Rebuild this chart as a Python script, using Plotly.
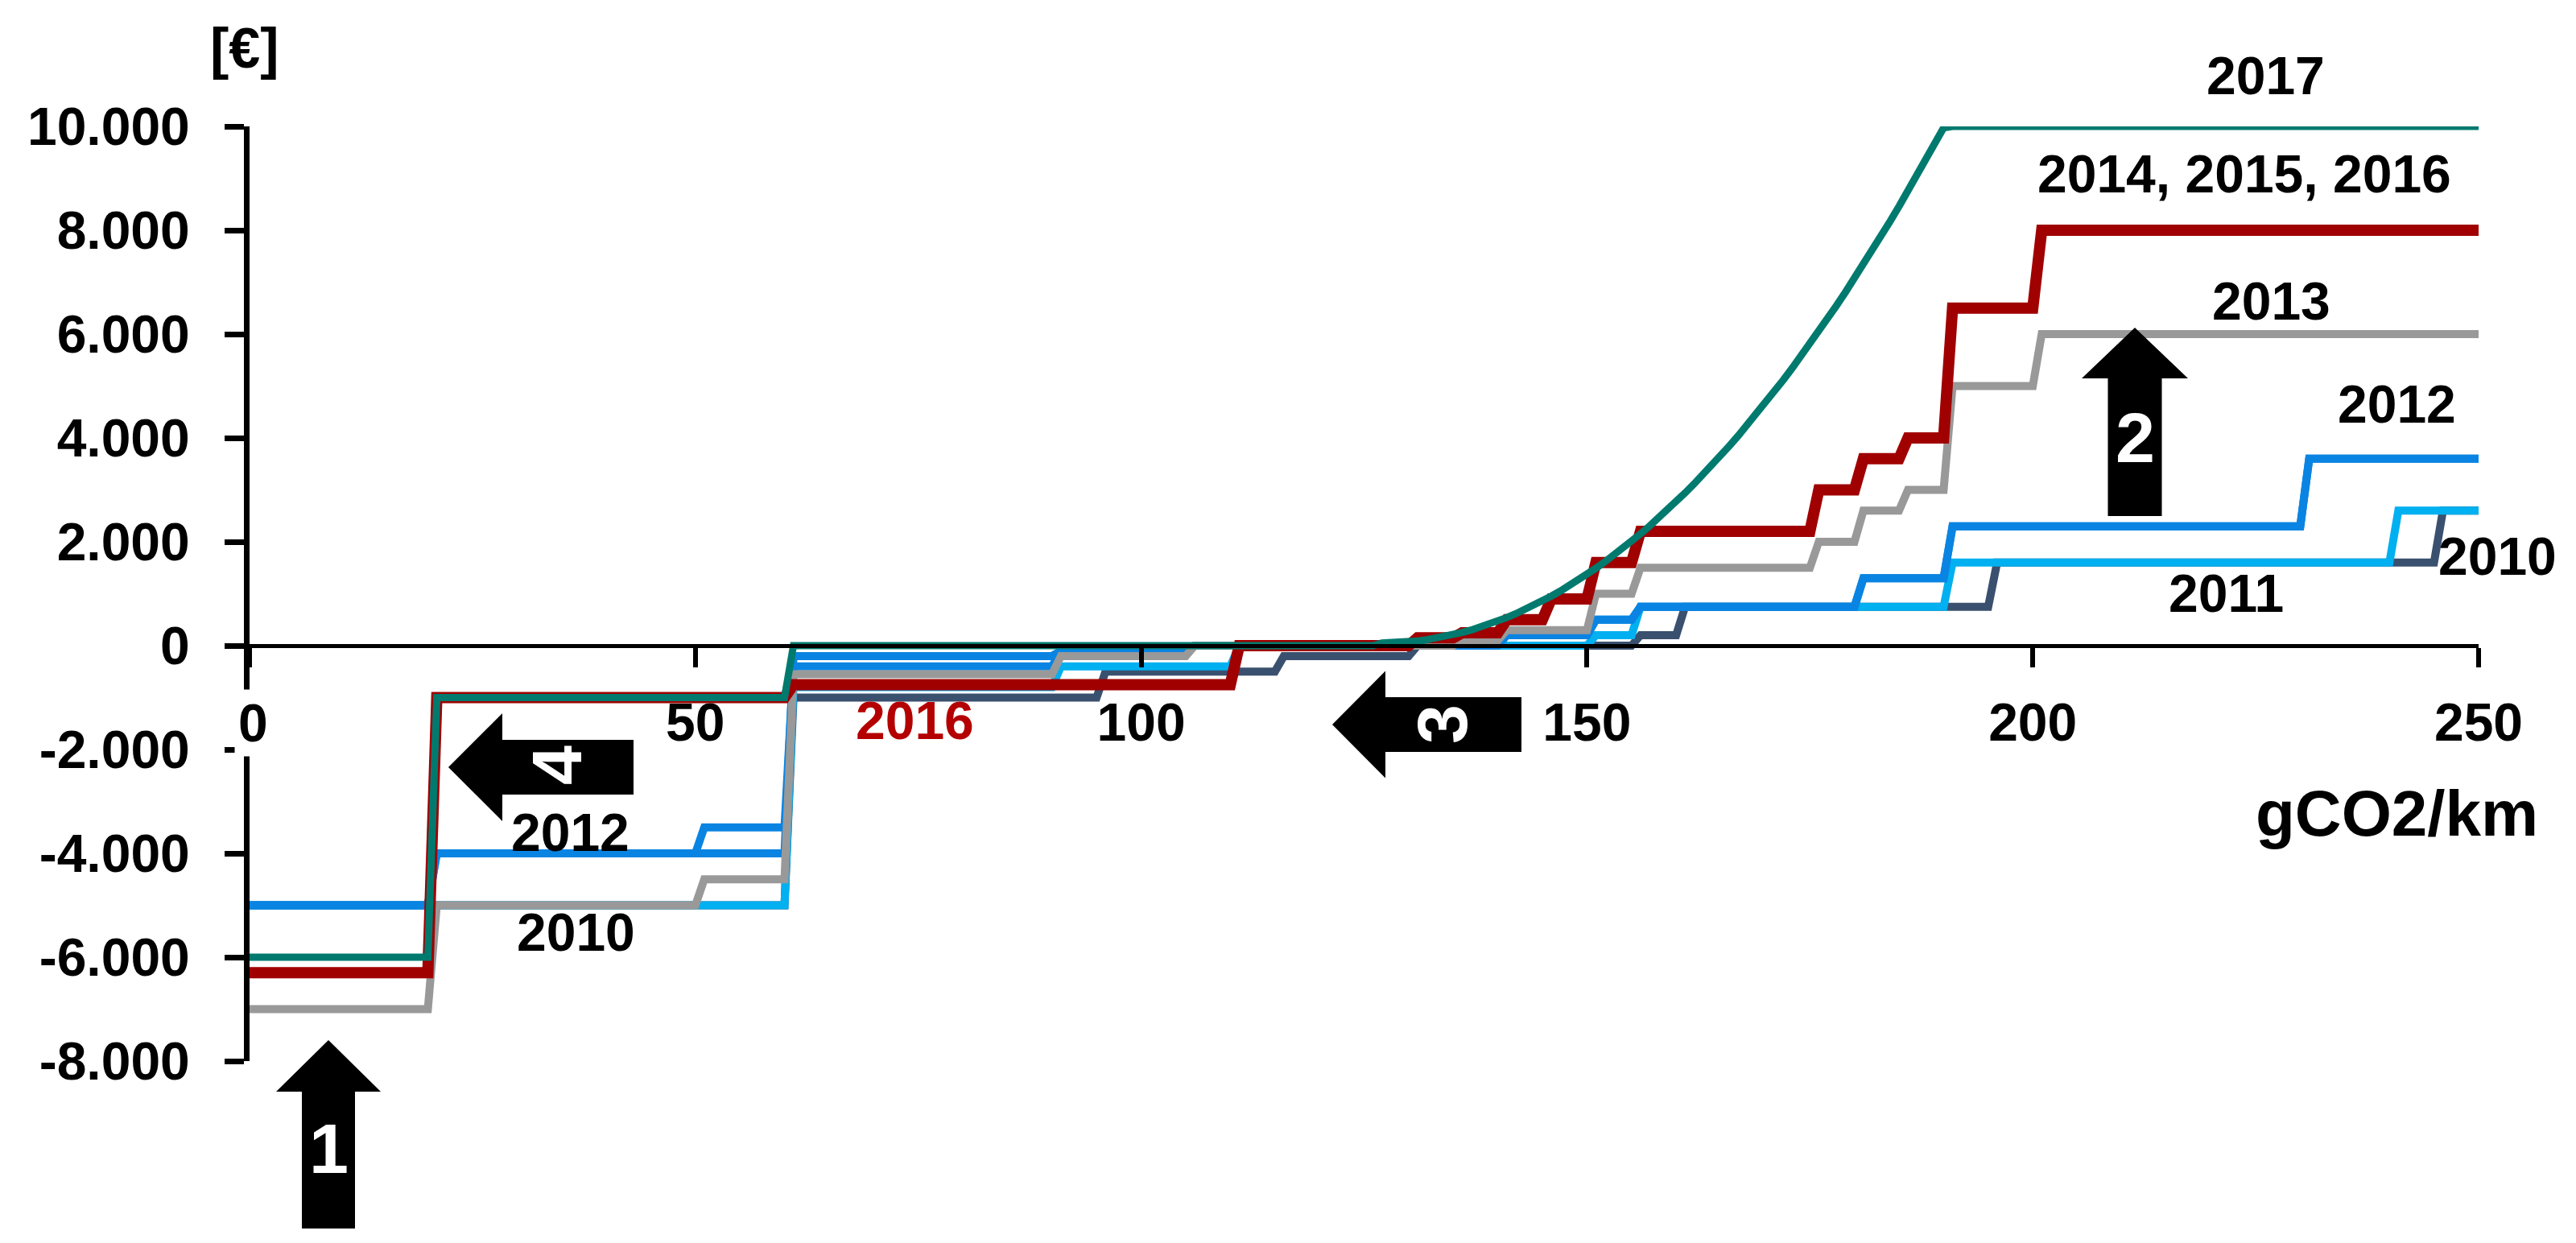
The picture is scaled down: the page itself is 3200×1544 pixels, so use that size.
import plotly.graph_objects as go

# Bonus (-) / malus (+) in EUR per CO2 band: upper limit of each band (gCO2/km) and its value
lim_2010 = [60, 95, 115, 130, 155, 160, 195, 245, 250]
val_2010 = [-5000, -1000, -500, -200, 0, 200, 750, 1600, 2600]

lim_2011 = [60, 90, 110, 150, 155, 190, 240, 250]
val_2011 = [-5000, -800, -400, 0, 200, 750, 1600, 2600]

lim_2012 = [20, 50, 60, 90, 105, 140, 150, 155, 180, 190, 230, 250]
val_2012 = [-5000, -4000, -3500, -400, -100, 0, 200, 500, 750, 1300, 2300, 3600]

lim_2012b = [20, 60, 90, 105, 140, 150, 155, 180, 190, 230, 250]
val_2012b = [-5000, -4000, -200, -100, 0, 200, 500, 750, 1300, 2300, 3600]

lim_2013 = [20, 50, 60, 90, 105, 135, 140, 150, 155, 175, 180, 185, 190, 200, 250]
val_2013 = [-7000, -5000, -4500, -550, -200, 0, 100, 300, 1000, 1500, 2000, 2600, 3000, 5000, 6000]

lim_2016 = [20, 60, 110, 130, 135, 140, 145, 150, 155, 175, 180, 185, 190, 200, 250]
val_2016 = [-6300, -1000, -750, 0, 150, 250, 500, 900, 1600, 2200, 3000, 3600, 4000, 6500, 8000]

# 2017: per-gram malus from 127 to 190 g
malus_2017 = [50, 53, 60, 73, 90, 113, 140, 173, 210, 253, 300, 353, 410, 473,
              540, 613, 690, 773, 860, 953, 1050, 1153, 1260, 1373, 1490, 1613,
              1740, 1873, 2010, 2153, 2300, 2453, 2610, 2773, 2940, 3113, 3290,
              3473, 3660, 3853, 4050, 4253, 4460, 4673, 4890, 5113, 5340, 5573,
              5810, 6053, 6300, 6553, 6810, 7073, 7340, 7613, 7890, 8173, 8460,
              8753, 9050, 9353, 9660, 9973]
lim_2017 = [20, 60, 126] + list(range(127, 191)) + [250]
val_2017 = [-6000, -1000, 0] + malus_2017 + [10000]

x_ticks = [0, 50, 100, 150, 200, 250]
x_ticktext = ["", "50", "100", "150", "200", "250"]
y_range = [-8000, 10000]
y_ticks = [-8000, -6000, -4000, -2000, 0, 2000, 4000, 6000, 8000, 10000]
y_ticktext = ["-8.000", "-6.000", "-4.000", "-2.000", "0", "2.000", "4.000", "6.000", "8.000", "10.000"]

FONT = "Arial, Liberation Sans, sans-serif"
W, H = 3200, 1544
L, R, T, B = 302, 129, 149, 234
pw, ph = W - L - R, H - T - B


def px(X):
    return (X - L) / pw


def py(Y):
    return (H - B - Y) / ph


def steps(limits, values):
    # each band is flat; the jump to the next band happens over one gram
    xs, ys = [], []
    lo = 0
    for hi, v in zip(limits, values):
        if hi > lo:
            xs += [lo, hi]
            ys += [v, v]
        else:
            xs.append(hi)
            ys.append(v)
        lo = hi + 1
    return xs, ys


series = [
    ("2010", lim_2010, val_2010, "#3A506F", 10),
    ("2011", lim_2011, val_2011, "#00B0F0", 10),
    ("2012", lim_2012, val_2012, "#0A84E2", 10),
    ("2012 (b)", lim_2012b, val_2012b, "#0A84E2", 10),
    ("2013", lim_2013, val_2013, "#999999", 10),
    ("2014, 2015, 2016", lim_2016, val_2016, "#A00000", 14),
    ("2017", lim_2017, val_2017, "#007A6E", 9),
]

fig = go.Figure()
for name, lim, val, color, width in series:
    xs, ys = steps(lim, val)
    fig.add_trace(go.Scatter(x=xs, y=ys, mode="lines", name=name,
                             line=dict(color=color, width=width),
                             cliponaxis=False, showlegend=False))

# block arrows (pixel geometry converted to paper coords)
def up_arrow(cx, tip, base, head_w, shaft_w, bottom):
    pts = [(cx, tip), (cx + head_w / 2, base), (cx + shaft_w / 2, base),
           (cx + shaft_w / 2, bottom), (cx - shaft_w / 2, bottom),
           (cx - shaft_w / 2, base), (cx - head_w / 2, base)]
    return "M " + " L ".join(f"{px(a):.5f},{py(b):.5f}" for a, b in pts) + " Z"


def left_arrow(cy, tip, base, head_h, shaft_h, end):
    pts = [(tip, cy), (base, cy - head_h / 2), (base, cy - shaft_h / 2),
           (end, cy - shaft_h / 2), (end, cy + shaft_h / 2),
           (base, cy + shaft_h / 2), (base, cy + head_h / 2)]
    return "M " + " L ".join(f"{px(a):.5f},{py(b):.5f}" for a, b in pts) + " Z"


arrows = [
    up_arrow(400, 1284, 1348, 130, 66, 1518),
    up_arrow(2644, 399, 462, 132, 67, 633),
    left_arrow(892, 1647, 1713, 133, 68, 1882),
    left_arrow(945, 549, 616, 134, 68, 779),
]
for p in arrows:
    fig.add_shape(type="path", path=p, xref="paper", yref="paper",
                  fillcolor="black", line=dict(color="black", width=0), layer="above")

# text labels: text, x px, y px, size, color, angle
labels = [
    ("2017", 2806, 86, 66, "black", 0),
    ("2014, 2015, 2016", 2780, 208, 66, "black", 0),
    ("2013", 2813, 366, 66, "black", 0),
    ("2012", 2969, 494, 66, "black", 0),
    ("2010", 3094, 683, 66, "black", 0),
    ("2011", 2757, 729, 66, "black", 0),
    ("2016", 1128, 887, 66, "#B40000", 0),
    ("2012", 700, 1026, 66, "black", 0),
    ("2010", 707, 1150, 66, "black", 0),
    ("[€]", 296, 52, 70, "black", 0),
    ("gCO2/km", 2969, 1002, 80, "black", 0),
    ("1", 400, 1418, 88, "white", 0),
    ("2", 2644, 535, 88, "white", 0),
    ("3", 1783, 892, 88, "white", -90),
    ("4", 683, 943, 88, "white", -90),
]
for text, X, Y, size, color, ang in labels:
    fig.add_annotation(text=text, x=px(X), y=py(Y), xref="paper", yref="paper",
                       xanchor="center", yanchor="middle", showarrow=False,
                       textangle=ang,
                       font=dict(family=FONT, size=size, color=color, weight="bold"))

# the "0" label of the x axis sits on a white box that cuts the y axis
fig.add_annotation(text="0", x=px(306), y=py(890), xref="paper", yref="paper",
                   xanchor="center", yanchor="middle", showarrow=False,
                   bgcolor="white", borderpad=4,
                   font=dict(family=FONT, size=66, color="black", weight="bold"))

zero_pos = (0 - y_range[0]) / (y_range[1] - y_range[0])

fig.update_layout(
    width=W, height=H,
    margin=dict(l=L, r=R, t=T, b=B),
    paper_bgcolor="white", plot_bgcolor="white",
    showlegend=False,
    font=dict(family=FONT, color="black"),
    xaxis=dict(range=[0, 250], anchor="free", position=zero_pos,
               showline=True, linecolor="black", linewidth=5,
               ticks="outside", ticklen=24, tickwidth=6, tickcolor="black",
               tickvals=x_ticks, ticktext=x_ticktext, ticklabelstandoff=12,
               tickfont=dict(family=FONT, size=66, color="black", weight="bold"),
               showgrid=False, zeroline=False),
    yaxis=dict(range=y_range, domain=[0, 1],
               showline=True, linecolor="black", linewidth=7,
               ticks="outside", ticklen=24, tickwidth=7, tickcolor="black",
               tickvals=y_ticks, ticktext=y_ticktext, ticklabelstandoff=30,
               tickfont=dict(family=FONT, size=66, color="black", weight="bold"),
               showgrid=False, zeroline=False),
)

fig.write_html("out.html")
